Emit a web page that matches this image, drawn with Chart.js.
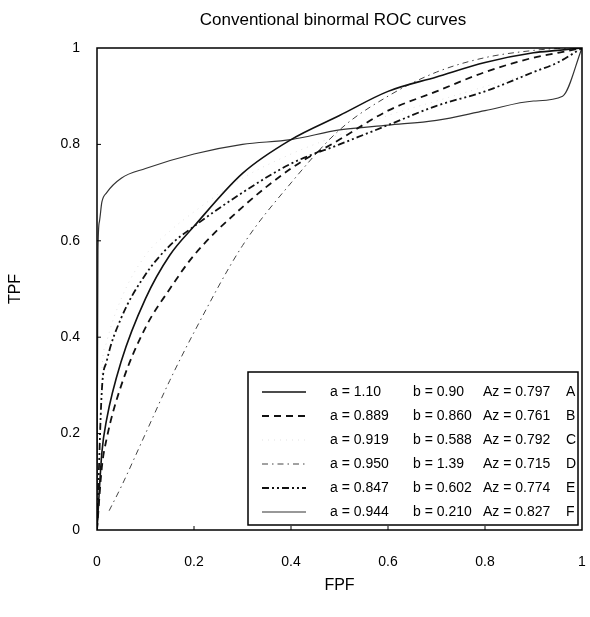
<!DOCTYPE html>
<html>
<head>
<meta charset="utf-8">
<script src="https://cdn.jsdelivr.net/npm/chart.js@4/dist/chart.umd.min.js"></script>
<style>
  html, body { margin:0; padding:0; background:#fff; }
  #wrap { width:590px; height:617px; position:relative; }
</style>
</head>
<body>
<div id="wrap"><canvas id="roc" width="590" height="617"></canvas></div>
<script>
// ---- data ----
const FPF  = [0, 0.01, 0.02, 0.05, 0.1, 0.15, 0.2, 0.3, 0.4, 0.5, 0.6, 0.7, 0.8, 0.9, 0.95, 1];
const tpfA = [0, 0.16, 0.23, 0.35, 0.48, 0.57, 0.63, 0.74, 0.81, 0.86, 0.91, 0.94, 0.97, 0.99, 0.995, 1];
const tpfB = [0, 0.13, 0.19, 0.30, 0.42, 0.50, 0.57, 0.67, 0.75, 0.81, 0.87, 0.91, 0.95, 0.98, 0.99, 1];
const tpfC = [0, 0.33, 0.39, 0.48, 0.57, 0.62, 0.66, 0.73, 0.78, 0.82, 0.86, 0.89, 0.92, 0.95, 0.97, 1];
const tpfE = [0, 0.29, 0.35, 0.44, 0.53, 0.59, 0.63, 0.70, 0.76, 0.80, 0.84, 0.88, 0.91, 0.95, 0.97, 1];

const fpfD = [0.025, 0.05, 0.1, 0.15, 0.2, 0.3, 0.4, 0.5, 0.6, 0.7, 0.8, 0.9, 0.95, 1];
const tpfD = [0.04, 0.09, 0.20, 0.31, 0.41, 0.59, 0.72, 0.83, 0.90, 0.95, 0.98, 0.995, 0.999, 1];

const fpfF = [0, 0.002, 0.005, 0.01, 0.02, 0.05, 0.1, 0.2, 0.3, 0.4, 0.5, 0.6, 0.7, 0.8, 0.9, 0.96, 1];
const tpfF = [0, 0.58, 0.64, 0.68, 0.70, 0.73, 0.75, 0.78, 0.80, 0.81, 0.83, 0.84, 0.85, 0.87, 0.89, 0.90, 1];

const curveNames = ['A', 'B', 'C', 'D', 'E', 'F'];
const aVals  = ['1.10', '0.889', '0.919', '0.950', '0.847', '0.944'];
const bVals  = ['0.90', '0.860', '0.588', '1.39', '0.602', '0.210'];
const azVals = ['0.797', '0.761', '0.792', '0.715', '0.774', '0.827'];

const xTicks = [0, 0.2, 0.4, 0.6, 0.8, 1];
const yTicks = [0, 0.2, 0.4, 0.6, 0.8, 1];

const FONT = '"Liberation Sans", Arial, sans-serif';
const pts = (xs, ys) => xs.map((x, i) => ({ x: x, y: ys[i] }));

// frame, inward ticks, title and the boxed legend
const rocDecor = {
  id: 'rocDecor',
  afterDraw(chart) {
    const { ctx, chartArea: ca, scales } = chart;
    ctx.save();
    ctx.strokeStyle = '#000';
    ctx.lineWidth = 1.5;
    ctx.setLineDash([]);
    ctx.strokeRect(ca.left, ca.top, ca.right - ca.left, ca.bottom - ca.top);
    ctx.lineWidth = 1;
    xTicks.slice(1, -1).forEach(v => {
      const px = scales.x.getPixelForValue(v);
      ctx.beginPath(); ctx.moveTo(px, ca.bottom); ctx.lineTo(px, ca.bottom - 4); ctx.stroke();
    });
    yTicks.slice(1, -1).forEach(v => {
      const py = scales.y.getPixelForValue(v);
      ctx.beginPath(); ctx.moveTo(ca.left, py); ctx.lineTo(ca.left + 4, py); ctx.stroke();
    });

    // title
    ctx.fillStyle = '#000';
    ctx.font = '17px ' + FONT;
    ctx.textAlign = 'center';
    ctx.textBaseline = 'middle';
    ctx.fillText('Conventional binormal ROC curves', 333, 20);

    // legend box
    const bx = 248, by = 372, bw = 330, bh = 153;
    ctx.fillStyle = '#fff';
    ctx.fillRect(bx, by, bw, bh);
    ctx.lineWidth = 1.5;
    ctx.strokeRect(bx, by, bw, bh);
    ctx.font = '14px ' + FONT;
    ctx.textAlign = 'left';
    chart.data.datasets.forEach((ds, i) => {
      const ry = by + 20 + i * 24;
      ctx.strokeStyle = ds.borderColor;
      ctx.lineWidth = ds.borderWidth;
      ctx.setLineDash(ds.borderDash || []);
      ctx.beginPath(); ctx.moveTo(bx + 14, ry); ctx.lineTo(bx + 58, ry); ctx.stroke();
      ctx.setLineDash([]);
      ctx.fillStyle = '#000';
      ctx.fillText('a = ' + aVals[i], bx + 82, ry);
      ctx.fillText('b = ' + bVals[i], bx + 165, ry);
      ctx.fillText('Az = ' + azVals[i], bx + 235, ry);
      ctx.fillText(curveNames[i], bx + 318, ry);
    });
    ctx.restore();
  }
};

const line = (label, data, color, width, dash) => ({
  label: label, data: data, borderColor: color, borderWidth: width, borderDash: dash,
  pointRadius: 0, fill: false, cubicInterpolationMode: 'monotone'
});

new Chart(document.getElementById('roc'), {
  type: 'line',
  data: {
    datasets: [
      line('A', pts(FPF, tpfA), '#111', 1.6, []),
      line('B', pts(FPF, tpfB), '#111', 1.8, [7, 5]),
      line('C', pts(FPF, tpfC), 'rgba(0,0,0,0.12)', 1, [1, 5]),
      line('D', pts(fpfD, tpfD), '#444', 1, [6, 4, 1.5, 4]),
      line('E', pts(FPF, tpfE), '#111', 1.8, [7, 3, 2, 3, 2, 3]),
      line('F', pts(fpfF, tpfF), '#333', 1.2, [])
    ]
  },
  options: {
    responsive: false,
    animation: false,
    devicePixelRatio: 1,
    layout: { padding: { top: 48, right: 8, left: 0, bottom: 0 } },
    plugins: { legend: { display: false }, tooltip: { enabled: false } },
    scales: {
      x: {
        type: 'linear', min: 0, max: 1,
        afterBuildTicks: s => { s.ticks = xTicks.map(v => ({ value: v })); },
        afterFit: s => { s.height = 87; s.paddingLeft = 0; s.paddingRight = 0; },
        grid: { display: false }, border: { display: false },
        ticks: { color: '#000', font: { family: FONT, size: 14 }, padding: 16,
                 callback: v => String(v) },
        title: { display: true, text: 'FPF', color: '#000',
                 font: { family: FONT, size: 16 }, padding: { top: 0, bottom: 22 } }
      },
      y: {
        type: 'linear', min: 0, max: 1,
        afterBuildTicks: s => { s.ticks = yTicks.map(v => ({ value: v })); },
        afterFit: s => { s.width = 97; s.paddingTop = 0; s.paddingBottom = 0; },
        grid: { display: false }, border: { display: false },
        ticks: { color: '#000', font: { family: FONT, size: 14 }, padding: 9,
                 callback: v => String(v) },
        title: { display: true, text: 'TPF', color: '#000',
                 font: { family: FONT, size: 16 }, padding: { top: 6, bottom: 0 } }
      }
    }
  },
  plugins: [rocDecor]
});
</script>
</body>
</html>
